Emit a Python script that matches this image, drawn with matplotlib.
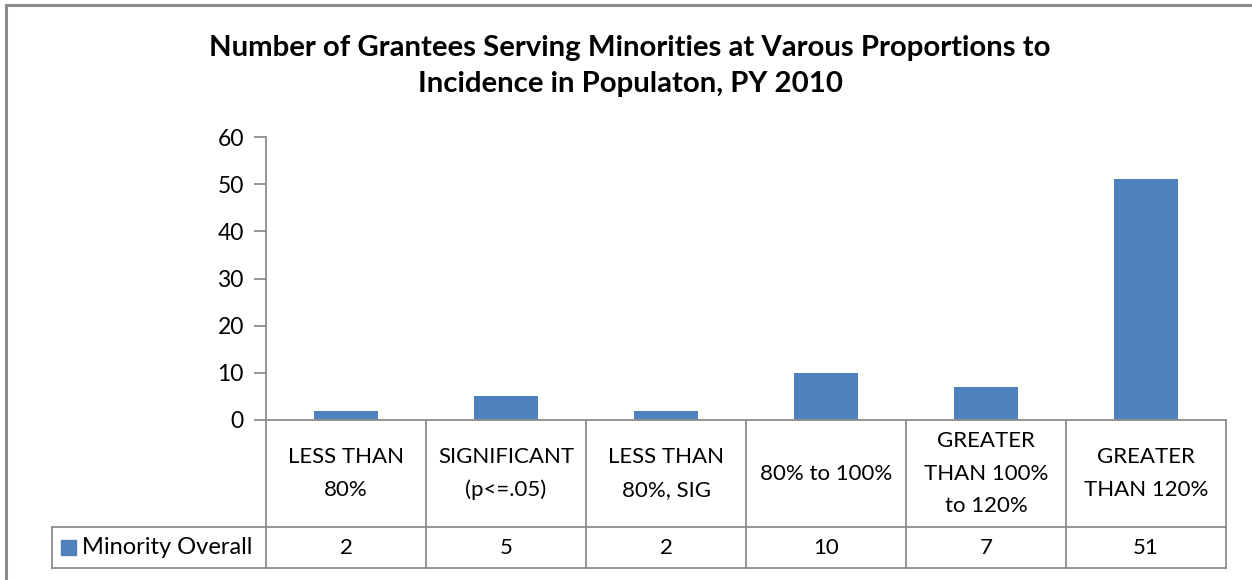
import matplotlib.pyplot as plt
from matplotlib.lines import Line2D

plt.rcParams["font.family"] = ["Lato", "DejaVu Sans"]

title = "Number of Grantees Serving Minorities at Varous Proportions to\nIncidence in Populaton, PY 2010"
categories = [
    "LESS THAN\n80%",
    "SIGNIFICANT\n(p<=.05)",
    "LESS THAN\n80%, SIG",
    "80% to 100%",
    "GREATER\nTHAN 100%\nto 120%",
    "GREATER\nTHAN 120%",
]
series_name = "Minority Overall"
values = [2, 5, 2, 10, 7, 51]
yticks = [0, 10, 20, 30, 40, 50, 60]

W, H = 1252, 580
BAR = "#4f81bd"
GRID = "#8c8c8c"

fig = plt.figure(figsize=(W / 100, H / 100), dpi=100)


def fx(px):
    return px / W


def fy(py):
    return 1 - py / H


# plot area in pixels
x0, x1 = 266, 1226
y_top, y_zero = 137, 420
ax = fig.add_axes([fx(x0), fy(y_zero), fx(x1 - x0), (y_zero - y_top) / H])
n = len(values)
ax.bar(range(n), values, width=0.4, color=BAR, zorder=3)
ax.set_xlim(-0.5, n - 0.5)
ax.set_ylim(0, 60)
ax.set_yticks(yticks)
ax.set_xticks([])
ax.tick_params(axis="y", length=9, width=1.3, color=GRID, labelsize=16.5, pad=7)
for s in ["top", "right", "bottom"]:
    ax.spines[s].set_visible(False)
ax.spines["left"].set_color(GRID)
ax.spines["left"].set_linewidth(1.3)


def line(xs, ys, lw=1.3):
    fig.add_artist(Line2D([fx(v) for v in xs], [fy(v) for v in ys],
                          color=GRID, lw=lw, transform=fig.transFigure))


# chart border (left and top only)
line([6, 6], [5, 600], lw=2.2)
line([6, 1300], [5, 5], lw=2.2)

# data table
row1, row2, row3 = 420, 527, 568
cw = (x1 - x0) / n
line([x0, x1], [row1, row1])
line([52, x1], [row2, row2])
line([52, x1], [row3, row3])
line([52, 52], [row2, row3])
for i in range(n + 1):
    xv = x0 + i * cw
    line([xv, xv], [row1, row3])

for i, (cat, v) in enumerate(zip(categories, values)):
    cx = x0 + (i + 0.5) * cw
    fig.text(fx(cx), fy((row1 + row2) / 2), cat, ha="center", va="center",
             fontsize=16, linespacing=1.78)
    fig.text(fx(cx), fy((row2 + row3) / 2), str(v), ha="center", va="center",
             fontsize=16)

# legend key in table
fig.patches.append(plt.Rectangle((fx(61), fy(555)), fx(15), 15 / H, color=BAR,
                                 transform=fig.transFigure))
fig.text(fx(82), fy((row2 + row3) / 2), series_name, ha="left", va="center",
         fontsize=17)

fig.text(fx(630), fy(66), title, ha="center", va="center", fontsize=21.2,
         fontweight="bold", linespacing=1.45)

fig.savefig("out.png", dpi=100)
